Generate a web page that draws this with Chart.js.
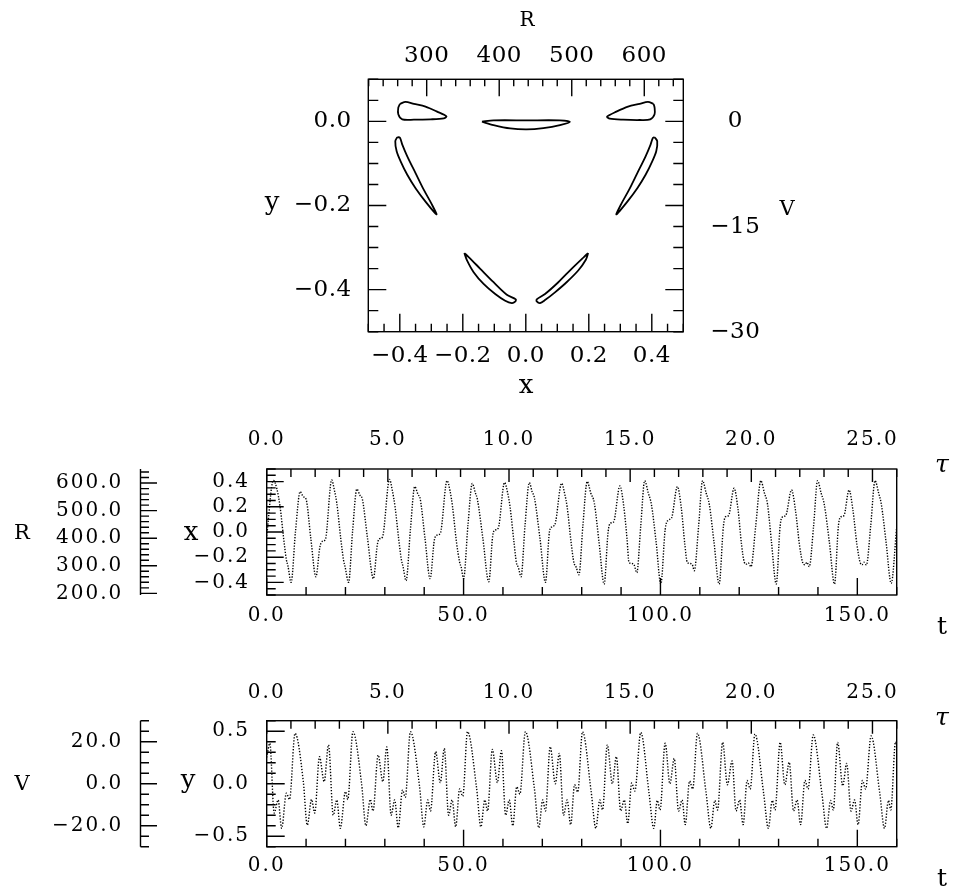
<!DOCTYPE html>
<html>
<head>
<meta charset="utf-8">
<script src="https://cdn.jsdelivr.net/npm/chart.js@4.4.1/dist/chart.umd.min.js"></script>
<style>
  body { margin: 0; background: #fff; width: 953px; height: 892px; position: relative; overflow: hidden; }
  canvas { position: absolute; left: 0; }
</style>
</head>
<body>
<canvas id="phase" width="953" height="410" style="top:0px"></canvas>
<canvas id="xplot" width="953" height="230" style="top:420px"></canvas>
<canvas id="yplot" width="953" height="222" style="top:670px"></canvas>
<script>
// middle panel: x against t (peaks, shoulders and minima)
const xT = [
  0.0, 1.7, 2.6, 3.4, 4.3, 5.0, 5.4, 6.2,
  7.3, 8.5, 9.3, 10.0, 11.2, 12.5,
  13.5, 14.1, 14.9, 16.5, 17.2, 17.8, 18.8, 19.5, 19.9, 20.8,
  21.8, 22.9, 23.7, 24.3, 25.6, 27.1,
  28.1, 28.6, 29.4, 31.2, 31.9, 32.6, 33.5, 34.2, 34.6, 35.4,
  36.5, 37.6, 38.4, 39.0, 40.2, 41.5,
  42.6, 43.3, 44.1, 45.8, 46.6, 47.2, 48.2, 49.0, 49.4, 50.0,
  51.1, 52.2, 53.0, 53.5, 54.9, 56.4,
  57.4, 58.0, 58.8, 60.4, 61.2, 61.8, 62.8, 63.4, 63.9, 64.6,
  65.6, 66.7, 67.4, 68.0, 69.4, 70.8,
  71.8, 72.4, 73.2, 74.9, 75.7, 76.3, 77.3, 78.0, 78.6, 79.3,
  80.3, 81.4, 82.3, 83.2, 84.4, 85.7,
  86.7, 87.3, 88.1, 89.7, 90.7, 91.5, 92.0, 92.7, 93.3, 94.0,
  95.0, 96.0, 96.9, 97.7, 98.9, 100.1,
  101.2, 102.0, 102.8, 104.3, 105.3, 106.2, 106.8, 107.5, 108.1, 108.6,
  109.7, 110.7, 111.6, 112.4, 113.6, 114.9,
  116.0, 116.5, 117.3, 118.7, 119.7, 120.6, 121.3, 121.8, 122.3, 123.0,
  124.2, 125.5, 126.4, 127.2, 128.2, 129.4,
  130.4, 131.0, 131.8, 133.3, 134.3, 135.3, 136.1, 136.7, 137.2, 137.8,
  138.9, 139.9, 140.8, 141.6, 142.9, 144.2,
  145.2, 145.8, 146.6, 147.9, 148.9, 149.9, 150.7, 151.2, 151.7, 152.3,
  153.4, 154.5, 155.4, 156.1, 157.3, 158.6, 160.0
];
const xV = [
  -0.03, 0.41, 0.34, 0.20, -0.05, -0.22, -0.27, -0.40,
  0.0, 0.32, 0.28, 0.26, -0.05, -0.355,
  -0.12, -0.075, -0.06, 0.413, 0.33, 0.23, -0.05, -0.22, -0.275, -0.40,
  0.0, 0.34, 0.29, 0.26, -0.05, -0.37,
  -0.10, -0.055, -0.04, 0.418, 0.33, 0.20, -0.05, -0.22, -0.27, -0.386,
  0.02, 0.36, 0.30, 0.26, -0.05, -0.37,
  -0.06, -0.025, -0.01, 0.407, 0.32, 0.20, -0.08, -0.24, -0.28, -0.37,
  0.05, 0.385, 0.31, 0.26, -0.05, -0.395,
  -0.03, 0.015, 0.03, 0.392, 0.31, 0.20, -0.08, -0.24, -0.28, -0.355,
  0.05, 0.392, 0.32, 0.27, -0.05, -0.40,
  0.0, 0.04, 0.06, 0.386, 0.30, 0.20, -0.08, -0.24, -0.28, -0.34,
  0.05, 0.40, 0.31, 0.23, -0.08, -0.413,
  0.0, 0.07, 0.08, 0.365, 0.20, -0.05, -0.24, -0.25, -0.26, -0.323,
  0.05, 0.407, 0.31, 0.22, -0.08, -0.413,
  0.02, 0.095, 0.11, 0.36, 0.19, -0.10, -0.24, -0.25, -0.26, -0.307,
  0.05, 0.407, 0.31, 0.22, -0.08, -0.413,
  0.05, 0.12, 0.13, 0.347, 0.18, -0.10, -0.24, -0.255, -0.245, -0.275,
  0.05, 0.407, 0.31, 0.22, -0.08, -0.413,
  0.05, 0.12, 0.13, 0.333, 0.17, -0.10, -0.24, -0.26, -0.24, -0.275,
  0.05, 0.407, 0.31, 0.22, -0.08, -0.413,
  0.05, 0.12, 0.13, 0.333, 0.17, -0.10, -0.24, -0.26, -0.24, -0.262,
  0.05, 0.407, 0.31, 0.22, -0.08, -0.407, 0.04
];

// bottom panel: y against t
const yT = [
  0.0, 0.8, 1.9, 2.9, 3.8, 5.0, 5.8,
  7.2, 9.3, 10.3, 11.4, 12.2, 13.4, 14.6, 15.7, 16.9, 17.8, 18.7, 20.0, 20.6,
  21.9, 24.1, 25.2, 26.3, 27.0, 28.3, 29.5, 30.5, 31.6, 32.5, 33.4, 34.5, 35.2,
  36.5, 38.8, 39.9, 40.9, 41.6, 42.9, 44.1, 45.1, 46.2, 47.1, 48.0, 49.0, 49.8,
  51.0, 53.3, 54.4, 55.4, 56.1, 57.3, 58.6, 59.6, 60.7, 61.6, 62.5, 63.5, 64.3,
  65.7, 68.0, 69.1, 70.1, 70.8, 72.0, 73.3, 74.3, 75.4, 76.3, 77.2, 78.2, 79.0,
  80.2, 82.4, 83.6, 84.6, 85.3, 86.5, 87.8, 88.8, 89.9, 90.8, 91.7, 92.7, 93.5,
  95.0, 97.1, 98.3, 99.2, 99.9, 101.2, 102.4, 103.5, 104.6, 105.5, 106.3, 107.4, 108.2,
  109.4, 111.6, 112.8, 113.8, 114.5, 115.8, 117.0, 118.2, 119.2, 120.1, 121.0, 122.0, 122.8,
  124.0, 126.2, 127.4, 128.4, 129.1, 130.4, 131.6, 132.7, 133.8, 134.7, 135.6, 136.7, 137.5,
  138.8, 141.0, 142.2, 143.2, 143.9, 145.0, 146.3, 147.3, 148.4, 149.3, 150.2, 151.3, 152.1,
  153.5, 155.7, 156.9, 157.9, 158.5, 159.7, 160.0
];
const yV = [
  0.25, 0.385, -0.28, -0.155, -0.425, -0.09, -0.15,
  0.48, 0.02, -0.394, -0.15, -0.28, 0.257, 0.02, 0.369, -0.30, -0.155, -0.425, -0.075, -0.15,
  0.495, 0.0, -0.40, -0.15, -0.26, 0.273, 0.02, 0.35, -0.30, -0.155, -0.42, -0.06, -0.13,
  0.495, -0.02, -0.41, -0.155, -0.26, 0.305, 0.01, 0.336, -0.30, -0.155, -0.41, -0.05, -0.12,
  0.495, -0.04, -0.41, -0.155, -0.26, 0.327, 0.01, 0.314, -0.30, -0.155, -0.40, -0.03, -0.10,
  0.495, -0.05, -0.42, -0.155, -0.26, 0.352, 0.0, 0.289, -0.30, -0.155, -0.39, -0.01, -0.08,
  0.495, -0.076, -0.425, -0.155, -0.25, 0.37, 0.0, 0.257, -0.26, -0.155, -0.38, 0.006, -0.07,
  0.488, -0.09, -0.425, -0.16, -0.25, 0.385, 0.0, 0.24, -0.26, -0.155, -0.39, 0.025, -0.05,
  0.48, -0.09, -0.425, -0.16, -0.25, 0.394, -0.01, 0.216, -0.26, -0.155, -0.39, 0.03, -0.05,
  0.473, -0.09, -0.425, -0.16, -0.25, 0.394, -0.01, 0.204, -0.26, -0.155, -0.39, 0.03, -0.05,
  0.464, -0.09, -0.425, -0.16, -0.25, 0.394, -0.02, 0.194, -0.26, -0.155, -0.39, 0.03, -0.05,
  0.455, -0.09, -0.425, -0.16, -0.25, 0.40, 0.38
];

// top panel: the seven closed orbits in the (x, y) plane
const loop1X = [-0.3995, -0.3816, -0.3553, -0.3184, -0.2815, -0.252, -0.2604, -0.3026, -0.3553, -0.3921, -0.4048, -0.4048, -0.3995];
const loop1Y = [0.0415, 0.0463, 0.0415, 0.0351, 0.0232, 0.012, 0.0072, 0.0048, 0.004, 0.0048, 0.0168, 0.0327, 0.0415];
const loop2X = [0.4056, 0.3877, 0.3614, 0.3245, 0.2876, 0.2581, 0.2665, 0.3087, 0.3614, 0.3951, 0.4088, 0.4088, 0.4056];
const loop2Y = [0.0415, 0.0463, 0.0415, 0.0351, 0.0232, 0.0112, 0.0064, 0.004, 0.0032, 0.0048, 0.0168, 0.0327, 0.0415];
const loop3X = [-0.1392, -0.1023, 0.003, 0.1084, 0.14, 0.1084, 0.0557, 0.003, -0.0496, -0.1023, -0.1392];
const loop3Y = [-0.0008, 0.0024, 0.0024, 0.0024, -0.0008, -0.0088, -0.016, -0.0192, -0.0168, -0.0088, -0.0008];
const loop4X = [-0.408, -0.4143, -0.41, -0.3974, -0.3763, -0.35, -0.3184, -0.2836, -0.2973, -0.3236, -0.35, -0.3763, -0.3921, -0.3995, -0.408];
const loop4Y = [-0.0375, -0.0471, -0.0711, -0.095, -0.127, -0.1589, -0.1908, -0.2212, -0.1988, -0.1629, -0.1229, -0.083, -0.0551, -0.0391, -0.0375];
const loop5X = [0.4088, 0.4172, 0.4141, 0.4014, 0.3803, 0.354, 0.3224, 0.2876, 0.3013, 0.3276, 0.354, 0.3803, 0.3961, 0.4035, 0.4088];
const loop5Y = [-0.0375, -0.0471, -0.0711, -0.095, -0.127, -0.1589, -0.1908, -0.2212, -0.1988, -0.1629, -0.1229, -0.083, -0.0551, -0.0391, -0.0375];
const loop6X = [-0.1951, -0.1866, -0.1656, -0.134, -0.0971, -0.0654, -0.0444, -0.0338, -0.0317, -0.0602, -0.1023, -0.1445, -0.1814, -0.1951];
const loop6Y = [-0.313, -0.3305, -0.3585, -0.3864, -0.4104, -0.4263, -0.4319, -0.4287, -0.4232, -0.412, -0.3824, -0.3505, -0.3225, -0.313];
const loop7X = [0.198, 0.1906, 0.1664, 0.1295, 0.0926, 0.061, 0.0452, 0.0347, 0.0347, 0.061, 0.1032, 0.1453, 0.1843, 0.198];
const loop7Y = [-0.313, -0.3289, -0.3545, -0.3824, -0.4064, -0.4248, -0.4319, -0.428, -0.4232, -0.4104, -0.3824, -0.3505, -0.3225, -0.313];

// tick labels
const xTopLabels = [-0.4, -0.2, 0, 0.2, 0.4];
const yTopLabels = [0, -0.2, -0.4];
const rTopLabels = [300, 400, 500, 600];
const vTopLabels = [0, -15, -30];
const tLabels = [0, 50, 100, 150];
const tauLabels = [0, 5, 10, 15, 20, 25];
const xMidLabels = [0.4, 0.2, 0, -0.2, -0.4];
const rMidLabels = [600, 500, 400, 300, 200];
const yBotLabels = [0.5, 0, -0.5];
const vBotLabels = [20, 0, -20];

Chart.defaults.font.family = "'DejaVu Serif', serif";
Chart.defaults.color = "#000";

function pts(xs, ys) {
  return xs.map(function (x, i) { return { x: x, y: ys[i] }; });
}
function num(v, d) {
  var s = Math.abs(v).toFixed(d);
  return (v < -1e-9 ? "\u2212" : "") + s;
}
function fixedTicks(list) {
  return function (s) { s.ticks = list.map(function (v) { return { value: v }; }); };
}
function boxSize(n) {
  return function (s) { if (s.isHorizontal()) s.height = n; else s.width = n; };
}
function axis(pos, min, max, list, digits, fontSize, pad, size, weight, cross) {
  return {
    type: "linear", position: pos, min: min, max: max, weight: weight || 0,
    afterBuildTicks: fixedTicks(list), afterFit: boxSize(size),
    grid: { display: false, drawTicks: false }, border: { display: false },
    ticks: {
      autoSkip: false, maxRotation: 0, minRotation: 0, padding: pad, color: "#000",
      crossAlign: cross || "near",
      font: { family: "'DejaVu Serif', serif", size: fontSize },
      callback: function (v) { return num(v, digits); }
    }
  };
}

// inward tick marks, frame and axis titles
function drawTickSet(chart, t) {
  var s = chart.scales[t.scale], a = chart.chartArea, ctx = chart.ctx;
  ctx.beginPath();
  for (var i = Math.ceil(s.min / t.step - 1e-6); i * t.step <= s.max + 1e-9; i++) {
    var v = i * t.step;
    var major = Math.abs(v / t.major - Math.round(v / t.major)) < 1e-6;
    var len = major ? t.long : t.short;
    var p = s.getPixelForValue(v);
    if (t.side === "bottom") { ctx.moveTo(p, a.bottom); ctx.lineTo(p, a.bottom - len); }
    else if (t.side === "top") { ctx.moveTo(p, a.top); ctx.lineTo(p, a.top + len); }
    else if (t.side === "left") { ctx.moveTo(a.left, p); ctx.lineTo(a.left + len, p); }
    else if (t.side === "right") { ctx.moveTo(a.right, p); ctx.lineTo(a.right - len, p); }
    else if (t.side === "spine") { ctx.moveTo(s.right, p); ctx.lineTo(s.right + len, p); }
  }
  if (t.side === "spine") { ctx.moveTo(s.right, s.top); ctx.lineTo(s.right, s.bottom); }
  ctx.stroke();
}
function panel(spacing, tickSets, titles) {
  return {
    id: "panel",
    beforeLayout: function (chart) { chart.ctx.letterSpacing = spacing; },
    beforeDraw: function (chart) { chart.ctx.letterSpacing = spacing; },
    afterDraw: function (chart) {
      var ctx = chart.ctx, a = chart.chartArea;
      ctx.save();
      ctx.letterSpacing = "0px";
      ctx.strokeStyle = "#000";
      ctx.lineWidth = 1.4;
      ctx.strokeRect(a.left, a.top, a.right - a.left, a.bottom - a.top);
      tickSets.forEach(function (t) { drawTickSet(chart, t); });
      ctx.fillStyle = "#000";
      ctx.textAlign = "center";
      ctx.textBaseline = "middle";
      titles.forEach(function (t) { ctx.font = t.font; ctx.fillText(t.text, t.x, t.y); });
      ctx.restore();
    }
  };
}

var base = {
  responsive: false, animation: false, events: [], devicePixelRatio: 1,
  plugins: { legend: { display: false }, tooltip: { enabled: false } }
};

// ---- top: phase plane ----
var loopsX = [loop1X, loop2X, loop3X, loop4X, loop5X, loop6X, loop7X];
var loopsY = [loop1Y, loop2Y, loop3Y, loop4Y, loop5Y, loop6Y, loop7Y];
new Chart(document.getElementById("phase"), {
  type: "line",
  data: {
    datasets: loopsX.map(function (lx, k) {
      return { data: pts(lx, loopsY[k]), borderColor: "#000", borderWidth: 1.8, pointRadius: 0, tension: 0.3, fill: false };
    })
  },
  options: Object.assign({}, base, {
    layout: { padding: 0 },
    scales: {
      x: axis("bottom", -0.5, 0.5, xTopLabels, 1, 23, 11, 78.3),
      rTop: axis("top", 219.5, 653.8, rTopLabels, 0, 23, 9.7, 79.3),
      y: axis("left", -0.5, 0.1, yTopLabels, 1, 23, 16.6, 368.3),
      vRight: axis("right", -30, 6, vTopLabels, 0, 23, 27, 269.7, 0, "center")
    }
  }),
  plugins: [panel("0.5px", [
    { scale: "x", side: "bottom", step: 0.05, major: 0.2, short: 8, long: 18 },
    { scale: "rTop", side: "top", step: 20, major: 100, short: 7, long: 17 },
    { scale: "y", side: "left", step: 0.05, major: 0.2, short: 10, long: 18 },
    { scale: "y", side: "right", step: 0.05, major: 0.2, short: 10, long: 18 }
  ], [
    { text: "R", x: 527, y: 21, font: "20px 'DejaVu Serif'" },
    { text: "x", x: 526, y: 386, font: "26px 'DejaVu Serif'" },
    { text: "y", x: 272, y: 203, font: "26px 'DejaVu Serif'" },
    { text: "V", x: 787, y: 210, font: "21px 'DejaVu Serif'" }
  ])]
});

// ---- middle: x(t) ----
new Chart(document.getElementById("xplot"), {
  type: "line",
  data: {
    datasets: [{
      data: pts(xT, xV), borderColor: "#000", borderWidth: 1.4, borderDash: [1.3, 1.5],
      pointRadius: 0, cubicInterpolationMode: "monotone", fill: false
    }]
  },
  options: Object.assign({}, base, {
    layout: { padding: { left: 0, right: 56.3, top: 0, bottom: 0 } },
    scales: {
      x: axis("bottom", 0, 160, tLabels, 1, 20, 9.2, 55),
      tau: axis("top", 0, 26, tauLabels, 1, 20, 17.2, 49),
      y: axis("left", -0.5, 0.5, xMidLabels, 1, 20, 16.7, 126.2, 0),
      rLeft: axis("left", 194, 651, rMidLabels, 1, 20, 17.2, 140.5, 1)
    }
  }),
  plugins: [panel("2px", [
    { scale: "x", side: "bottom", step: 10, major: 50, short: 8, long: 17 },
    { scale: "tau", side: "top", step: 1, major: 5, short: 8, long: 13 },
    { scale: "y", side: "left", step: 0.05, major: 0.2, short: 9, long: 17 },
    { scale: "rLeft", side: "spine", step: 20, major: 100, short: 8.5, long: 16.5 }
  ], [
    { text: "R", x: 22, y: 114, font: "21px 'DejaVu Serif'" },
    { text: "x", x: 191, y: 113, font: "26px 'DejaVu Serif'" },
    { text: "\u03c4", x: 942, y: 45, font: "italic 25px 'DejaVu Serif'" },
    { text: "t", x: 942, y: 207, font: "25px 'DejaVu Serif'" }
  ])]
});

// ---- bottom: y(t) ----
new Chart(document.getElementById("yplot"), {
  type: "line",
  data: {
    datasets: [{
      data: pts(yT, yV), borderColor: "#000", borderWidth: 1.4, borderDash: [1.3, 1.7],
      pointRadius: 0, cubicInterpolationMode: "monotone", fill: false
    }]
  },
  options: Object.assign({}, base, {
    layout: { padding: { left: 0, right: 56.3, top: 0, bottom: 0 } },
    scales: {
      x: axis("bottom", 0, 160, tLabels, 1, 20, 7.5, 45.3),
      tau: axis("top", 0, 26, tauLabels, 1, 20, 15.9, 50.7),
      y: axis("left", -0.6, 0.6, yBotLabels, 1, 20, 16.7, 126.2, 0),
      vLeft: axis("left", -30, 30, vBotLabels, 1, 20, 17.2, 140.5, 1)
    }
  }),
  plugins: [panel("2px", [
    { scale: "x", side: "bottom", step: 10, major: 50, short: 8, long: 17 },
    { scale: "tau", side: "top", step: 1, major: 5, short: 8, long: 13 },
    { scale: "y", side: "left", step: 0.1, major: 0.5, short: 9, long: 18 },
    { scale: "vLeft", side: "spine", step: 5, major: 20, short: 8.5, long: 16.5 }
  ], [
    { text: "V", x: 22, y: 115, font: "21px 'DejaVu Serif'" },
    { text: "y", x: 188, y: 111, font: "26px 'DejaVu Serif'" },
    { text: "\u03c4", x: 942, y: 48, font: "italic 25px 'DejaVu Serif'" },
    { text: "t", x: 942, y: 209, font: "25px 'DejaVu Serif'" }
  ])]
});
</script>
</body>
</html>
